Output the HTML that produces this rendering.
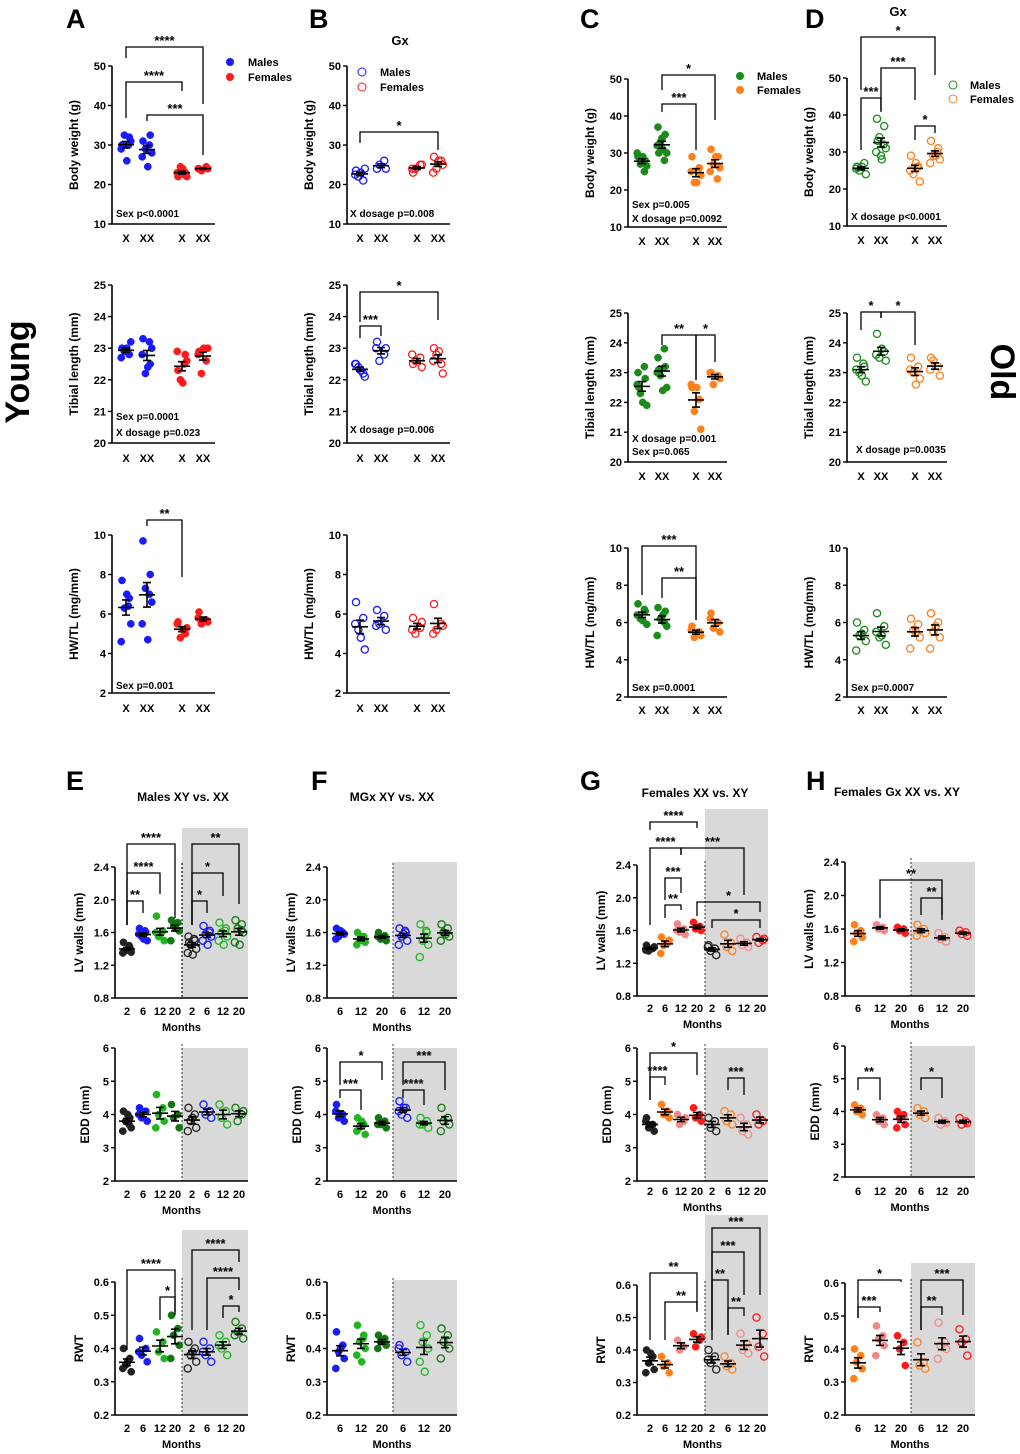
<!DOCTYPE html>
<html><head><meta charset="utf-8">
<style>
html,body{margin:0;padding:0;background:#fff;}
svg{display:block;font-family:"Liberation Sans",Arial,sans-serif;font-weight:bold;}
</style></head>
<body>
<svg id="fig" width="1020" height="1454" viewBox="0 0 1020 1454" xmlns="http://www.w3.org/2000/svg">
<text x="20" y="372" font-size="34" transform="rotate(-90 20 372)" text-anchor="middle" dominant-baseline="middle">Young</text>
<text x="1000" y="372" font-size="34" transform="rotate(90 1000 372)" text-anchor="middle" dominant-baseline="middle">Old</text>
<text x="66" y="28" font-size="27">A</text>
<text x="309" y="28" font-size="27">B</text>
<text x="580" y="28" font-size="27">C</text>
<text x="805" y="28" font-size="27">D</text>
<text x="66" y="790" font-size="27">E</text>
<text x="311" y="790" font-size="27">F</text>
<text x="580" y="790" font-size="27">G</text>
<text x="806" y="790" font-size="27">H</text>
<text x="400" y="45" font-size="13" text-anchor="middle">Gx</text>
<text x="898" y="16" font-size="13" text-anchor="middle">Gx</text>
<text x="183" y="801" font-size="12" text-anchor="middle">Males XY vs. XX</text>
<text x="392" y="801" font-size="12" text-anchor="middle">MGx XY vs. XX</text>
<text x="695" y="797" font-size="12" text-anchor="middle">Females XX vs. XY</text>
<text x="897" y="796" font-size="12" text-anchor="middle">Females Gx XX vs. XY</text>
<g>
<circle cx="230" cy="62" r="4" fill="#1a1aff"/><text x="248" y="66" font-size="11">Males</text>
<circle cx="230" cy="77" r="4" fill="#ff1a1a"/><text x="248" y="81" font-size="11">Females</text></g>
<g>
<circle cx="362" cy="72" r="4" fill="none" stroke="#1a1aff"/><text x="380" y="76" font-size="11">Males</text>
<circle cx="362" cy="87" r="4" fill="none" stroke="#ff1a1a"/><text x="380" y="91" font-size="11">Females</text></g>
<g>
<circle cx="740" cy="76" r="4" fill="#1a8a1a"/><text x="757" y="80" font-size="11">Males</text>
<circle cx="740" cy="90" r="4" fill="#ff7f1a"/><text x="757" y="94" font-size="11">Females</text></g>
<g>
<circle cx="953" cy="85" r="4" fill="none" stroke="#1a8a1a"/><text x="970" y="89" font-size="11">Males</text>
<circle cx="953" cy="99" r="4" fill="none" stroke="#ff7f1a"/><text x="970" y="103" font-size="11">Females</text></g>
</svg>
<script>
// ---- data ----
const xLabels4=['X','XX','X','XX'];
const monthLabels8=['2','6','12','20','2','6','12','20'];
const monthLabels6=['6','12','20','6','12','20'];
const bwTicks=[10,20,30,40,50];
const tlTicks=[20,21,22,23,24,25];
const hwTicks=[2,4,6,8,10];
const lvTicks=[0.8,1.2,1.6,2.0,2.4];
const eddTicks=[2,3,4,5,6];
const rwtTicks=[0.2,0.3,0.4,0.5,0.6];

const A1=[[30,32,32.5,31,29,26,30],[31,32.5,29,28,27,24.5,30],[22,23,24.5,22,23,24,22.5],[24,24.5,23.5,24,24]];
const A2=[[23,22.8,22.9,23.2,22.7,23],[23.3,22.5,22.2,23,22.8,22.4,23.2],[22.3,22.8,22,22.6,22.9,21.9,22.5],[22.9,22.6,22.2,23,22.8,23]];
const A3=[[7.7,6.8,6.3,5.5,4.6,7,6.4],[9.7,8,7.3,6.6,5.5,4.7,7],[5.6,5.0,4.8,5.3,5.5,5.2],[6.1,5.7,5.5,5.6,5.8]];
const B1=[[23.5,21,22,24,22.5,23],[24,26,25,24],[23,25,24,25,24],[27,26,24,25,23,26]];
const B2=[[22.5,22.2,22.4,22.1,22.5,22.3],[23.2,22.8,22.6,23,23],[22.5,22.7,22.6,22.4,22.8],[23,22.5,22.8,22.2,22.6,22.9]];
const B3=[[6.6,5.8,5.2,4.2,5.5,4.8],[6.2,5.9,5.5,5.2,5.4],[5.8,5.3,5,5.6,5.2],[6.5,5.5,5.2,5.4,5]];
const C1=[[29,28,27,26.5,30,29,25],[37,35,33,30,32,31,28,30,34],[29,26,22,24,25,22],[31,29,27,26,25,29,23]];
const C2=[[23,22.8,22.3,21.9,22.6,22,23.2,22.5],[23.5,23.2,22.9,22.5,23,22.4,23.8,23.1],[22.5,22.1,21.7,21.1,22.6,22.5],[23,22.9,22.6,22.8,23]];
const C3=[[7,6.6,6.2,5.9,6.4,6.1,6.7],[6.8,6.6,6.2,5.8,5.3,6.4,6],[5.8,5.5,5.2,5.3,5.6],[6.5,6,5.7,5.5,6.2]];
const D1=[[26,27,25,24,25.5,26],[39,37,34,31,30,28,32,33,29],[29,26,24,22,25,27,26],[33,31,29,28,27,29,30]];
const D2=[[23.5,23.2,23,22.7,23.1,22.9,23.3],[24.3,23.7,23.5,23.4,23.6,23.8],[23.5,23.2,23,22.8,23.1,22.6],[23.5,23.2,23.4,22.9,23.1]];
const D3=[[6,5.6,5.3,5,4.5,5.4],[6.5,5.8,5.2,4.8,5.5,5.3],[6.2,5.9,5.6,5.2,4.6,5.5],[6.5,6,5.5,5.2,4.6,5.8]];
const E1=[[1.48,1.42,1.38,1.36,1.35,1.4,1.44,1.37],[1.65,1.6,1.55,1.5,1.58,1.52,1.62],[1.8,1.62,1.55,1.5,1.6,1.58],[1.75,1.72,1.68,1.62,1.5,1.65],[1.55,1.5,1.45,1.4,1.35,1.33,1.52,1.48],[1.68,1.62,1.58,1.55,1.5,1.45,1.6],[1.72,1.65,1.6,1.55,1.5,1.45,1.62],[1.75,1.7,1.65,1.6,1.48,1.45,1.63]];
const E2=[[4.1,3.9,3.8,3.6,3.5,4,3.7],[4.2,4.1,3.9,3.8,4],[4.6,4.2,4,3.8,3.6],[4.3,4,3.9,3.6],[4.2,4,3.8,3.6,3.5,3.9],[4.3,4.1,4,3.9],[4.3,4.1,3.9,3.7],[4.2,4,3.8,4.1]];
const E3=[[0.4,0.37,0.35,0.33,0.34,0.36],[0.43,0.4,0.38,0.36,0.39],[0.45,0.42,0.39,0.37],[0.5,0.46,0.44,0.41,0.37],[0.42,0.4,0.38,0.36,0.34,0.39],[0.42,0.4,0.38,0.36,0.39],[0.44,0.42,0.4,0.38,0.41],[0.48,0.46,0.45,0.43,0.44]];
const F1=[[1.65,1.6,1.55,1.58,1.52,1.62],[1.6,1.55,1.5,1.48,1.45,1.55],[1.6,1.56,1.52,1.5,1.55],[1.65,1.6,1.55,1.5,1.45,1.58,1.62],[1.7,1.6,1.5,1.45,1.3,1.55,1.62],[1.7,1.65,1.6,1.55,1.5,1.58]];
const F2=[[4.3,4,3.9,3.8,4.1],[3.9,3.7,3.6,3.4,3.5,3.8],[3.9,3.8,3.7,3.6,3.7],[4.4,4.2,4,3.9,4.1,4.2],[3.9,3.8,3.7,3.6,3.7],[4.2,3.9,3.8,3.7,3.5]];
const F3=[[0.45,0.41,0.39,0.37,0.34,0.4],[0.47,0.44,0.42,0.4,0.38,0.36,0.43],[0.44,0.43,0.42,0.41,0.4],[0.41,0.39,0.38,0.36,0.4],[0.47,0.44,0.42,0.4,0.36,0.33],[0.46,0.44,0.42,0.4,0.37]];
const G1=[[1.42,1.38,1.35,1.4,1.36],[1.52,1.45,1.42,1.48,1.32],[1.68,1.62,1.58,1.55,1.6],[1.7,1.65,1.62,1.6],[1.42,1.38,1.35,1.3,1.4],[1.55,1.45,1.4,1.35],[1.5,1.45,1.42,1.4],[1.52,1.48,1.45,1.5]];
const G2=[[3.9,3.7,3.6,3.5,3.8],[4.3,4.1,4,3.9],[4,3.8,3.7,3.9],[4.2,4,3.9,3.8],[3.9,3.8,3.6,3.5],[4.1,4,3.8,3.7],[3.9,3.7,3.5,3.4],[4,3.8,3.7]];
const G3=[[0.4,0.38,0.36,0.34,0.33,0.39],[0.38,0.36,0.35,0.33],[0.43,0.41,0.4],[0.45,0.43,0.41,0.44],[0.4,0.38,0.36,0.34,0.37],[0.38,0.36,0.35,0.34],[0.45,0.42,0.4,0.39],[0.5,0.45,0.41,0.38]];
const H1=[[1.65,1.58,1.55,1.5,1.45],[1.65,1.62,1.6,1.58],[1.62,1.6,1.58,1.55],[1.65,1.6,1.58,1.55,1.52],[1.55,1.5,1.48,1.45],[1.58,1.56,1.54,1.52]];
const H2=[[4.2,4.1,4,3.9],[3.9,3.8,3.7,3.6],[4,3.9,3.8,3.6,3.5],[4.1,4,3.9,3.8],[3.8,3.7,3.6,3.65],[3.8,3.7,3.6,3.65]];
const H3=[[0.4,0.38,0.36,0.34,0.31],[0.47,0.44,0.43,0.41,0.38],[0.44,0.42,0.4,0.35],[0.42,0.36,0.35,0.34],[0.48,0.42,0.41,0.4,0.37],[0.46,0.43,0.42,0.38]];

// ---- rendering ----
const NS='http://www.w3.org/2000/svg';
const svgRoot=document.getElementById('fig');
const jit=[-5,4,-2,6,-6,1,3,-4,0];
function mk(tag,attrs,parent){const e=document.createElementNS(NS,tag);for(const k in attrs)e.setAttribute(k,attrs[k]);(parent||svgRoot).appendChild(e);return e;}
const BL='#1a1aff',RD='#ff1a1a',GR='#1a8a1a',OR='#ff7f1a',BK='#222',LG='#22b522',DG='#117711',PK='#f08a8a';

function panel(p){
  const g=mk('g',{});
  
  
  const yScale=v=>p.ybot-(v-p.ticks[0])/(p.ticks[p.ticks.length-1]-p.ticks[0])*(p.ybot-p.ytop);
  if(p.gray){const r=mk('rect',{x:p.gray[0],y:p.gray[1],width:p.gray[2]-p.gray[0],height:p.ybot-p.gray[1],fill:'#d9d9d9'},g);
    
    
    const d=mk('line',{x1:p.gray[0],x2:p.gray[0],y1:p.ytop-4,y2:p.ybot,stroke:'#333','stroke-width':p.dashW||1,'stroke-dasharray':'2,2'},g);
    
    }
  const ax=mk('path',{d:`M${p.ax},${p.ytop} V${p.ybot} H${p.xend}`,stroke:'#000','stroke-width':1.6,fill:'none'},g);
  
  
  p.ticks.forEach(t=>{const yy=yScale(t);mk('line',{x1:p.ax-4,x2:p.ax,y1:yy,y2:yy,stroke:'#000','stroke-width':1.4},g);
    const tx=mk('text',{x:p.ax-6,y:yy+4,'font-size':11,'text-anchor':'end'},g);tx.textContent=p.tfmt?t.toFixed(1):t;
    
    });
  const yt=mk('text',{x:p.ax-p.ylOff,y:(p.ytop+p.ybot)/2,'font-size':12,'text-anchor':'middle',transform:`rotate(-90 ${p.ax-p.ylOff} ${(p.ytop+p.ybot)/2})`},g);
  yt.textContent=p.ylab;
  
  
  p.data.forEach((vals,i)=>{
    const cx=p.xs[i],col=p.cols[i],open=p.open[i];
    const gg=mk('g',{},g);
    
    
    vals.forEach((v,k)=>{const c=mk('circle',{cx:cx+jit[k%jit.length]*p.js,cy:yScale(v),r:3.6,fill:open?'none':col,stroke:col,'stroke-width':open?1.3:0.5},gg);
      
      });
    const m=vals.reduce((a,b)=>a+b,0)/vals.length;
    const sd=Math.sqrt(vals.reduce((a,b)=>a+(b-m)*(b-m),0)/(vals.length-1));const se=sd/Math.sqrt(vals.length);
    const ym=yScale(m),ya=yScale(m+se),yb=yScale(m-se);
    const mb=mk('path',{d:`M${cx-8},${ym}H${cx+8}M${cx},${ya}V${yb}M${cx-4},${ya}H${cx+4}M${cx-4},${yb}H${cx+4}`,stroke:'#000','stroke-width':1.6,fill:'none'},gg);
    
    
    const lt=mk('text',{x:cx,y:p.ly,'font-size':11,'text-anchor':'middle'},g);lt.textContent=p.labels[i];
    
    
  });
  if(p.my){const mt=mk('text',{x:(p.ax+p.xend)/2,y:p.my,'font-size':11,'text-anchor':'middle'},g);mt.textContent='Months';
    
    }
  (p.br||[]).forEach(b=>{const x1=p.xs[b[0]],x2=p.xs[b[1]];
    const bp=mk('path',{d:`M${x1},${b[3]}V${b[2]}H${x2}V${b[4]}`,stroke:'#000','stroke-width':1.3,fill:'none'},g);
    
    
    const st=mk('text',{x:(x1+x2)/2,y:b[2]-2,'font-size':13,'text-anchor':'middle'},g);st.textContent=b[5];
    
    });
  (p.notes||[]).forEach(n=>{const t=mk('text',{x:n[0],y:n[1],'font-size':10},g);t.textContent=n[2];
    
    });
}
const xA=[126,147,182,203],xB=[360,381,417,438],xC=[642,662,696,715],xD=[861,881,915,935];
const cM=[BL,BL,RD,RD],cC=[GR,GR,OR,OR];
const f4=[0,0,0,0],o4=[1,1,1,1];
function topRow(name,ax,xs,cols,open,rows){rows.forEach(r=>panel(Object.assign({name:name+'-'+r.k,ax:ax,xend:xs[3]+12,xs:xs,cols:cols,open:open,labels:xLabels4,ylOff:34,js:0.8},r)));}
topRow('panel-a',112,xA,cM,f4,[
 {k:'body-weight',data:A1,ticks:bwTicks,ytop:66,ybot:224,ly:242,ylab:'Body weight (g)',br:[[0,3,47,58,104,'****'],[0,2,82,118,91,'****'],[1,3,115,121,155,'***']],notes:[[116,217,'Sex p<0.0001']]},
 {k:'tibial-length',data:A2,ticks:tlTicks,ytop:285,ybot:443,ly:462,ylab:'Tibial length (mm)',notes:[[116,420,'Sex p=0.0001'],[116,436,'X dosage p=0.023']]},
 {k:'hw-tl',data:A3,ticks:hwTicks,ytop:535,ybot:693,ly:712,ylab:'HW/TL (mg/mm)',br:[[1,2,520,526,577,'**']],notes:[[116,689,'Sex p=0.001']]}]);
topRow('panel-b',347,xB,cM,o4,[
 {k:'body-weight',data:B1,ticks:bwTicks,ytop:66,ybot:224,ly:242,ylab:'Body weight (g)',br:[[0,3,132,143,150,'*']],notes:[[350,217,'X dosage p=0.008']]},
 {k:'tibial-length',data:B2,ticks:tlTicks,ytop:285,ybot:443,ly:462,ylab:'Tibial length (mm)',br:[[0,3,292,322,320,'*'],[0,1,326,338,336,'***']],notes:[[350,433,'X dosage p=0.006']]},
 {k:'hw-tl',data:B3,ticks:hwTicks,ytop:535,ybot:693,ly:712,ylab:'HW/TL (mg/mm)'}]);
topRow('panel-c',628,xC,cC,f4,[
 {k:'body-weight',data:C1,ticks:bwTicks,ytop:79,ybot:227,ly:245,ylab:'Body weight (g)',br:[[1,3,75,90,120,'*'],[1,2,104,112,150,'***']],notes:[[632,208,'Sex p=0.005'],[632,222,'X dosage p=0.0092']]},
 {k:'tibial-length',data:C2,ticks:tlTicks,ytop:313,ybot:462,ly:480,ylab:'Tibial length (mm)',br:[[1,2,335,345,380,'**'],[2,3,335,380,362,'*']],notes:[[632,442,'X dosage p=0.001'],[632,455,'Sex p=0.065']]},
 {k:'hw-tl',data:C3,ticks:hwTicks,ytop:548,ybot:697,ly:714,ylab:'HW/TL (mg/mm)',br:[[0,2,546,595,620,'***'],[1,2,578,598,620,'**']],notes:[[632,691,'Sex p=0.0001']]}]);
topRow('panel-d',847,xD,cC,o4,[
 {k:'body-weight',data:D1,ticks:bwTicks,ytop:78,ybot:226,ly:244,ylab:'Body weight (g)',br:[[0,3,37,90,75,'*'],[1,2,68,110,100,'***'],[0,1,98,150,112,'***'],[2,3,126,140,133,'*']],notes:[[851,220,'X dosage p<0.0001']]},
 {k:'tibial-length',data:D2,ticks:tlTicks,ytop:313,ybot:462,ly:480,ylab:'Tibial length (mm)',br:[[0,1,312,330,318,'*'],[1,2,312,318,345,'*']],notes:[[856,453,'X dosage p=0.0035']]},
 {k:'hw-tl',data:D3,ticks:hwTicks,ytop:548,ybot:697,ly:714,ylab:'HW/TL (mg/mm)',notes:[[851,691,'Sex p=0.0007']]}]);

function botRow(name,ax,xs,cols,open,labels,gx,rows){rows.forEach(r=>panel(Object.assign({name:name+'-'+r.k,ax:ax,xend:gx[1],xs:xs,cols:cols,open:open,labels:labels,ylOff:r.tfmt?32:26,js:0.7},r,{gray:[gx[0],r.gy,gx[1]]})));}
const xE=[127,143,160,175,192,207,223,239],cE=[BK,BL,LG,DG,BK,BL,LG,DG],oE=[0,0,0,0,1,1,1,1];
botRow('panel-e',115,xE,cE,oE,monthLabels8,[182,248],[
 {k:'lv-walls',data:E1,ticks:lvTicks,tfmt:1,ytop:867,ybot:998,ly:1015,my:1031,gy:828,ylab:'LV walls (mm)',dashW:1.5,br:[[0,3,844,925,918,'****'],[0,2,873,925,894,'****'],[0,1,901,925,913,'**'],[4,7,844,925,904,'**'],[4,6,873,925,896,'*'],[4,5,901,925,913,'*']]},
 {k:'edd',data:E2,ticks:eddTicks,ytop:1048,ybot:1181,ly:1198,my:1214,gy:1048,ylab:'EDD (mm)'},
 {k:'rwt',data:E3,ticks:rwtTicks,tfmt:1,ytop:1282,ybot:1415,ly:1432,my:1448,gy:1230,ylab:'RWT',br:[[0,3,1270,1350,1315,'****'],[2,3,1297,1320,1312,'*'],[4,7,1250,1330,1262,'****'],[5,7,1278,1330,1290,'****'],[6,7,1306,1318,1312,'*']]}]);
const xF=[340,361,382,403,424,445],cF=[BL,LG,DG,BL,LG,DG],o6=[0,0,0,1,1,1];
botRow('panel-f',327,xF,cF,o6,monthLabels6,[393,457],[
 {k:'lv-walls',data:F1,ticks:lvTicks,tfmt:1,ytop:867,ybot:998,ly:1015,my:1031,gy:862,ylab:'LV walls (mm)'},
 {k:'edd',data:F2,ticks:eddTicks,ytop:1048,ybot:1181,ly:1198,my:1214,gy:1048,ylab:'EDD (mm)',br:[[0,2,1062,1085,1080,'*'],[0,1,1090,1098,1110,'***'],[3,5,1062,1085,1090,'***'],[3,4,1090,1098,1105,'****']]},
 {k:'rwt',data:F3,ticks:rwtTicks,tfmt:1,ytop:1282,ybot:1415,ly:1432,my:1448,gy:1280,ylab:'RWT'}]);
const xG=[650,665,681,697,712,728,744,760],cG=[BK,OR,PK,RD,BK,OR,PK,RD];
botRow('panel-g',637,xG,cG,oE,monthLabels8,[705,768],[
 {k:'lv-walls',data:G1,ticks:lvTicks,tfmt:1,ytop:865,ybot:996,ly:1012,my:1028,gy:809,ylab:'LV walls (mm)',br:[[0,3,822,830,828,'****'],[0,2,848,925,855,'****'],[2,6,848,855,895,'***'],[1,2,878,900,893,'***'],[1,2,905,918,910,'**'],[3,7,902,916,912,'*'],[4,7,920,928,928,'*']]},
 {k:'edd',data:G2,ticks:eddTicks,ytop:1048,ybot:1181,ly:1195,my:1211,gy:1048,ylab:'EDD (mm)',br:[[0,3,1053,1100,1075,'*'],[0,1,1077,1100,1085,'****'],[5,6,1078,1090,1095,'***']]},
 {k:'rwt',data:G3,ticks:rwtTicks,tfmt:1,ytop:1285,ybot:1415,ly:1432,my:1448,gy:1215,ylab:'RWT',br:[[0,3,1273,1340,1310,'**'],[1,3,1302,1340,1312,'**'],[4,7,1228,1340,1295,'***'],[4,6,1252,1330,1295,'***'],[4,5,1280,1330,1335,'**'],[5,6,1308,1335,1316,'**']]}]);
const xH=[858,880,901,921,942,963],cH=[OR,PK,RD,OR,PK,RD];
botRow('panel-h',845,xH,cH,o6,monthLabels6,[911,975],[
 {k:'lv-walls',data:H1,ticks:lvTicks,tfmt:1,ytop:862,ybot:996,ly:1012,my:1028,gy:862,ylab:'LV walls (mm)',br:[[1,4,880,918,915,'**'],[3,4,898,915,920,'**']]},
 {k:'edd',data:H2,ticks:eddTicks,ytop:1046,ybot:1177,ly:1195,my:1211,gy:1046,ylab:'EDD (mm)',br:[[0,1,1078,1090,1100,'**'],[3,4,1078,1090,1098,'*']]},
 {k:'rwt',data:H3,ticks:rwtTicks,tfmt:1,ytop:1283,ybot:1415,ly:1432,my:1448,gy:1263,ylab:'RWT',br:[[0,2,1280,1318,1282,'*'],[0,1,1307,1318,1312,'***'],[3,5,1280,1330,1315,'***'],[3,4,1307,1330,1315,'**']]}]);
</script>
</body></html>
